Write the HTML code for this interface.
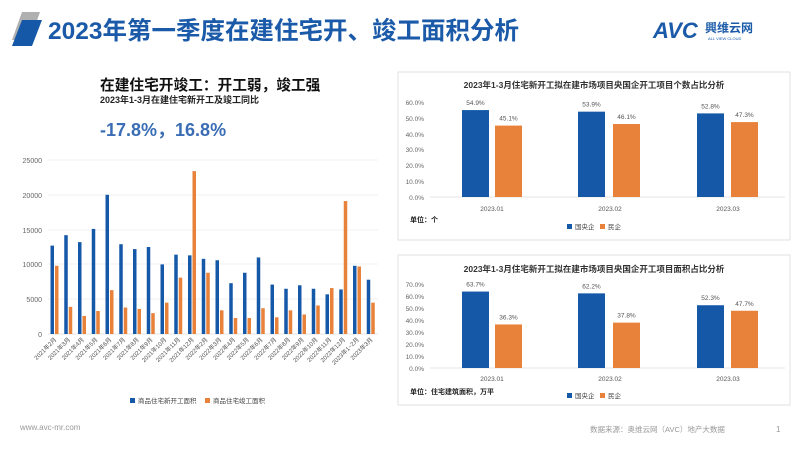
<!DOCTYPE html>
<html><head><meta charset="utf-8"><style>
body{margin:0;width:800px;height:450px;background:#fff;overflow:hidden;font-family:"Liberation Sans","Noto Sans CJK SC",sans-serif}
svg{position:absolute;left:0;top:0}
</style></head><body>
<svg width="800" height="450" xmlns="http://www.w3.org/2000/svg" font-family="Liberation Sans, Noto Sans CJK SC, sans-serif">
<polygon points="12,40 22,12 40,12 30,40" fill="#b0b0b0"/>
<polygon points="12,46 22,20 42,20 32,46" fill="#1558a8"/>
<text x="48" y="39" font-size="24.5" fill="#1a5aa8" font-weight="bold">2023年第一季度在建住宅开、竣工面积分析</text>
<text x="653" y="38" font-size="22" font-weight="bold" fill="#1a5aa8" font-style="italic">AVC</text>
<text x="705" y="32" font-size="12" font-weight="bold" fill="#1a5aa8">興维云网</text>
<text x="708" y="40" font-size="4" fill="#1a5aa8">ALL VIEW CLOUD</text>
<text x="100" y="90" font-size="14.7" font-weight="bold" fill="#111">在建住宅开竣工：开工弱，竣工强</text>
<text x="100" y="103" font-size="9" font-weight="bold" fill="#222">2023年1-3月在建住宅新开工及竣工同比</text>
<text x="100" y="136" font-size="18" font-weight="bold" fill="#3a6db5">-17.8%，16.8%</text>
<g font-size="7" fill="#666" text-anchor="end">
<g stroke="#e4e4e4" stroke-width="0.6">
<line x1="48" y1="160" x2="378" y2="160"/><line x1="48" y1="195" x2="378" y2="195"/><line x1="48" y1="230" x2="378" y2="230"/><line x1="48" y1="264" x2="378" y2="264"/><line x1="48" y1="299" x2="378" y2="299"/><line x1="48" y1="334" x2="378" y2="334" stroke="#ccc"/></g>
<text x="42" y="163">25000</text><text x="42" y="198">20000</text><text x="42" y="233">15000</text><text x="42" y="267">10000</text><text x="42" y="302">5000</text><text x="42" y="337">0</text>
</g>
<g id="left"></g>
<rect x="130" y="398" width="5" height="5" fill="#1558a8"/><text x="138" y="403" font-size="6.5" fill="#444">商品住宅新开工面积</text>
<rect x="205" y="398" width="5" height="5" fill="#e8813a"/><text x="213" y="403" font-size="6.5" fill="#444">商品住宅竣工面积</text>
<rect x="398" y="72" width="392" height="168" fill="none" stroke="#e0e0e0"/>
<text x="594" y="88" font-size="8.5" font-weight="bold" fill="#333" text-anchor="middle">2023年1-3月住宅新开工拟在建市场项目央国企开工项目个数占比分析</text>
<g font-size="6.5" fill="#666" text-anchor="end">
<text x="424" y="105">60.0%</text><text x="424" y="121">50.0%</text><text x="424" y="137">40.0%</text><text x="424" y="152">30.0%</text><text x="424" y="168">20.0%</text><text x="424" y="184">10.0%</text><text x="424" y="200">0.0%</text></g>
<line x1="430" y1="197" x2="785" y2="197" stroke="#ccc" stroke-width="0.6"/>
<g id="t"></g>
<g font-size="6.5" fill="#555" text-anchor="middle"><text x="492" y="211">2023.01</text><text x="610" y="211">2023.02</text><text x="728" y="211">2023.03</text></g>
<text x="410" y="222" font-size="7" font-weight="bold" fill="#222">单位：个</text>
<rect x="567" y="224" width="5" height="5" fill="#1558a8"/><text x="575" y="229" font-size="6.5" fill="#444">国央企</text>
<rect x="600" y="224" width="5" height="5" fill="#e8813a"/><text x="608" y="229" font-size="6.5" fill="#444">民企</text>
<rect x="398" y="255" width="392" height="150" fill="none" stroke="#e0e0e0"/>
<text x="594" y="272" font-size="8.5" font-weight="bold" fill="#333" text-anchor="middle">2023年1-3月住宅新开工拟在建市场项目央国企开工项目面积占比分析</text>
<g font-size="6.5" fill="#666" text-anchor="end">
<text x="424" y="287">70.0%</text><text x="424" y="299">60.0%</text><text x="424" y="311">50.0%</text><text x="424" y="323">40.0%</text><text x="424" y="335">30.0%</text><text x="424" y="347">20.0%</text><text x="424" y="359">10.0%</text><text x="424" y="371">0.0%</text></g>
<line x1="430" y1="368" x2="785" y2="368" stroke="#ccc" stroke-width="0.6"/>
<g id="b"></g>
<g font-size="6.5" fill="#555" text-anchor="middle"><text x="492" y="381">2023.01</text><text x="610" y="381">2023.02</text><text x="728" y="381">2023.03</text></g>
<text x="410" y="394" font-size="7" font-weight="bold" fill="#222">单位：住宅建筑面积，万平</text>
<rect x="567" y="393" width="5" height="5" fill="#1558a8"/><text x="575" y="398" font-size="6.5" fill="#444">国央企</text>
<rect x="600" y="393" width="5" height="5" fill="#e8813a"/><text x="608" y="398" font-size="6.5" fill="#444">民企</text>
<text x="20" y="430" font-size="8" fill="#999">www.avc-mr.com</text>
<text x="590" y="432" font-size="7.5" fill="#999">数据来源：奥维云网（AVC）地产大数据</text>
<text x="776" y="432" font-size="8" fill="#999">1</text>
</svg>
<script>
const NS="http://www.w3.org/2000/svg";
function el(p,t,a,txt){const e=document.createElementNS(NS,t);for(const k in a)e.setAttribute(k,a[k]);if(txt)e.textContent=txt;p.appendChild(e);return e;}
const L=document.getElementById('left');
const bl=[12700,14200,13200,15100,20000,12900,12200,12500,10000,11400,11300,10800,10600,7300,8800,11000,7100,6500,7000,6500,5700,6400,9800,7800];
const or=[9800,3900,2600,3300,6300,3800,3600,3000,4500,8100,23400,8800,3400,2300,2300,3700,2400,3400,2800,4100,6600,19100,9700,4500];
const lab=["2021年2月","2021年3月","2021年4月","2021年5月","2021年6月","2021年7月","2021年8月","2021年9月","2021年10月","2021年11月","2021年12月","2022年2月","2022年3月","2022年4月","2022年5月","2022年6月","2022年7月","2022年8月","2022年9月","2022年10月","2022年11月","2022年12月","2023年1~2月","2023年3月"];
const w=330/24,s=174/25000;
bl.forEach((v,i)=>{const x=48+i*w+2.5;
el(L,'rect',{x:x,y:334-v*s,width:3.5,height:v*s,fill:'#1558a8'});
el(L,'rect',{x:x+4.5,y:334-or[i]*s,width:3.5,height:or[i]*s,fill:'#e8813a'});
const cx=48+i*w+w/2+2;
el(L,'text',{x:cx,y:340,'font-size':6,fill:'#555','text-anchor':'end',transform:`rotate(-45 ${cx} 340)`},lab[i]);});
function grp(id,base,sc,data){const g=document.getElementById(id);
[[462,578,697],[495,613,731]].forEach((xs,k)=>xs.forEach((x,j)=>{const v=data[k][j],h=v*sc;
el(g,'rect',{x:x,y:base-h,width:27,height:h,fill:k?'#e8813a':'#1558a8'});
el(g,'text',{x:x+13.5,y:base-h-5,'font-size':6.5,fill:'#555','text-anchor':'middle'},v.toFixed(1)+'%');}));}
grp('t',197,95/60,[[54.9,53.9,52.8],[45.1,46.1,47.3]]);
grp('b',368,1.2,[[63.7,62.2,52.3],[36.3,37.8,47.7]]);
</script>
</body></html>
